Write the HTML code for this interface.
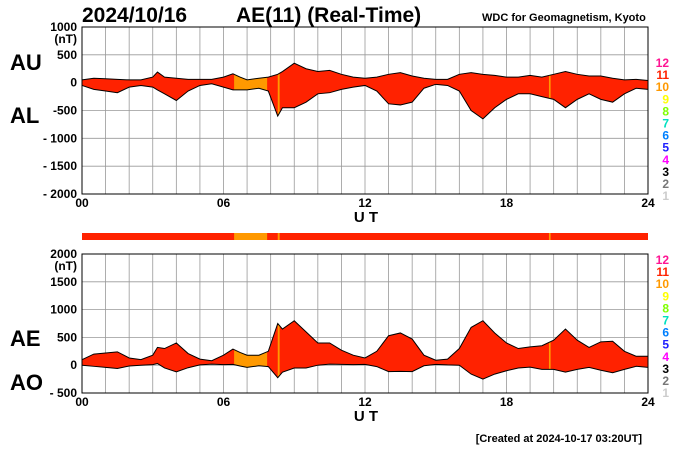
<!DOCTYPE html>
<html><head><meta charset="utf-8"><style>
body{margin:0;background:#fff}
svg text{font-family:"Liberation Sans",Arial,sans-serif;font-weight:bold}
</style></head><body>
<svg id="c" width="700" height="450" viewBox="0 0 700 450">
<text x="82" y="22" font-size="21">2024/10/16</text>
<text x="236" y="22" font-size="21">AE(11) (Real-Time)</text>
<text x="482" y="21" font-size="11" font-weight="normal">WDC for Geomagnetism, Kyoto</text>
<text x="10" y="70" font-size="22">AU</text>
<text x="10" y="123" font-size="22">AL</text>
<text x="10" y="346" font-size="22">AE</text>
<text x="10" y="390" font-size="22">AO</text>
<text x="642" y="442" font-size="11" text-anchor="end" font-weight="normal">[Created at 2024-10-17 03:20UT]</text>
<g id="gtop"></g><g id="gbot"></g>
</svg>
<script>
const hours=[0,0.5,1,1.5,2,2.5,3,3.2,3.5,4,4.5,5,5.5,6,6.4,6.7,7,7.5,7.9,8.3,8.5,9,9.5,10,10.5,11,11.5,12,12.5,13,13.5,14,14.5,15,15.5,16,16.5,17,17.5,18,18.5,19,19.5,20,20.5,21,21.5,22,22.5,23,23.5,24];
const auValues=[50,80,70,60,50,50,100,190,100,80,60,60,60,100,160,100,50,80,100,150,200,350,250,200,220,150,100,80,100,150,180,120,80,60,60,150,180,150,130,100,100,130,100,150,200,150,120,120,80,50,60,40];
const alValues=[-50,-120,-150,-180,-80,-50,-80,-130,-200,-320,-150,-50,-20,-80,-130,-130,-130,-100,-150,-600,-450,-450,-350,-200,-180,-120,-80,-50,-150,-380,-400,-350,-100,-30,-50,-150,-500,-650,-450,-300,-200,-200,-250,-300,-450,-300,-200,-300,-350,-200,-100,-120];
const orangeSpans=[[6.45,7.85],[8.3,8.38],[19.8,19.87]];
const topTicks=["1000","500","0","-500","- 1000","- 1500","- 2000"];
const botTicks=["2000","1500","1000","500","0","- 500"];
const xTicks=["00","06","12","18","24"];
const levels=["12","11","10","9","8","7","6","5","4","3","2","1"];
const levelColors=["#ff1493","#ff2200","#ff9900","#ffff00","#80ff00","#00e0c0","#0080ff","#2020ff","#ff00ff","#000","#777","#ccc"];
const NS="http://www.w3.org/2000/svg";
const X0=82,X1=648;
const xs=h=>X0+(X1-X0)*h/24;
function mk(p,tag,at,txt){const e=document.createElementNS(NS,tag);for(const k in at)e.setAttribute(k,at[k]);if(txt!==undefined)e.textContent=txt;p.appendChild(e);return e;}
function panel(g,yTop,yBot,vMax,vMin,step,ticks,upper,lower,pre,legY){
  const ys=v=>yTop+(vMax-v)/(vMax-vMin)*(yBot-yTop);
  for(let h=0;h<=24;h++){const l=mk(g,'line',{x1:xs(h),x2:xs(h),y1:yTop,y2:yBot,stroke:'#999','stroke-width':0.8});
    
    }
  ticks.forEach((t,i)=>{const v=vMax-i*step;const y=ys(v);
    const l=mk(g,'line',{x1:X0,x2:X1,y1:y,y2:y,stroke:'#999','stroke-width':0.8});
    
    
    const tx=mk(g,'text',{x:77,y:y+4,'font-size':12,'text-anchor':'end'},t);
    
    });
  mk(g,'text',{x:77,y:ys(vMax)+16,'font-size':12,'text-anchor':'end'},'(nT)');
  let pts=hours.map((h,i)=>xs(h)+','+ys(upper[i])).concat(hours.slice().reverse().map((h,j)=>xs(h)+','+ys(lower[hours.length-1-j])));
  const clipId=pre+'clip';
  const cp=mk(g,'clipPath',{id:clipId});mk(cp,'polygon',{points:pts.join(' ')});
  const f=mk(g,'polygon',{points:pts.join(' '),fill:'#ff2200'});
  
  
  orangeSpans.forEach(s=>{const r=mk(g,'rect',{x:xs(s[0]),y:yTop,width:xs(s[1])-xs(s[0]),height:yBot-yTop,fill:'#ff9900','clip-path':'url(#'+clipId+')'});
    
    });
  [upper,lower].forEach((arr,k)=>{const pl=mk(g,'polyline',{points:hours.map((h,i)=>xs(h)+','+ys(arr[i])).join(' '),fill:'none',stroke:'#000','stroke-width':1});
    
    });
  mk(g,'rect',{x:X0,y:yTop,width:X1-X0,height:yBot-yTop,fill:'none',stroke:'#000','stroke-width':1});
  xTicks.forEach((t,i)=>{const tx=mk(g,'text',{x:xs(i*6),y:yBot+13,'font-size':12,'text-anchor':'middle'},t);
    
    });
  const ut=mk(g,'text',{x:366,y:yBot+28,'font-size':15,'text-anchor':'middle'},'U T');
  
  
  levels.forEach((t,i)=>{const tx=mk(g,'text',{x:669,y:legY+i*12.1,'font-size':12,'text-anchor':'end',fill:levelColors[i]},t);
    
    });
}
const gTop=document.getElementById('gtop'),gBot=document.getElementById('gbot');
panel(gTop,27,194,1000,-2000,500,topTicks,auValues,alValues,'au-al',67);
const aeValues=auValues.map((u,i)=>u-alValues[i]);
const aoValues=auValues.map((u,i)=>(u+alValues[i])/2);
panel(gBot,254,393,2000,-500,500,botTicks,aeValues,aoValues,'ae-ao',264);
const cb=mk(gBot,'rect',{x:X0,y:233,width:X1-X0,height:7,fill:'#ff2200'});


orangeSpans.forEach(s=>{const r=mk(gBot,'rect',{x:xs(s[0]),y:233,width:xs(s[1])-xs(s[0]),height:7,fill:'#ff9900'});
  
  });
</script>
</body></html>
